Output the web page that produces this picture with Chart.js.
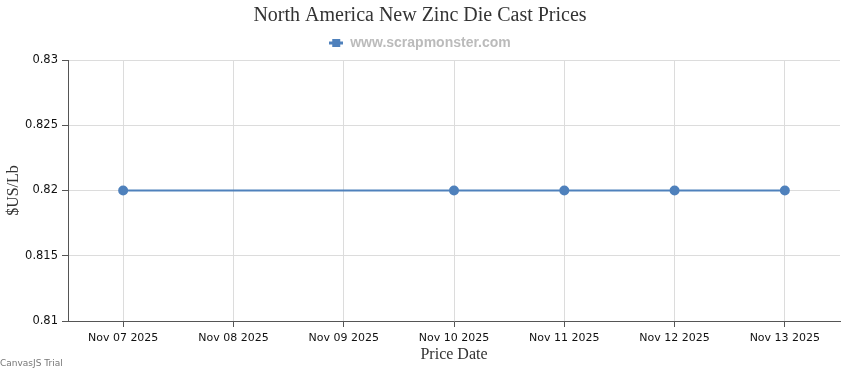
<!DOCTYPE html>
<html>
<head>
<meta charset="utf-8">
<script src="https://cdn.jsdelivr.net/npm/chart.js@4"></script>
<style>
  body { margin: 0; background: #fff; }
  #wrap { position: relative; width: 850px; height: 370px; }
  #trial { position: absolute; left: 0; top: 358px; font: 9px "DejaVu Sans", sans-serif; color: #777; }
</style>
</head>
<body>
<div id="wrap">
  <canvas id="chart" width="850" height="370"></canvas>
  <div id="trial">CanvasJS Trial</div>
</div>
<script>
const dates = ['Nov 07 2025', 'Nov 08 2025', 'Nov 09 2025', 'Nov 10 2025', 'Nov 11 2025', 'Nov 12 2025', 'Nov 13 2025'];
const prices = [0.82, null, null, 0.82, 0.82, 0.82, 0.82];
const yTicks = [0.81, 0.815, 0.82, 0.825, 0.83];

const lineColor = '#4F81BC';

// legend marker: short line with a square on it
function legendMarker() {
    const c = document.createElement('canvas');
    c.width = 14; c.height = 10;
    const g = c.getContext('2d');
    g.strokeStyle = lineColor;
    g.lineWidth = 3;
    g.beginPath(); g.moveTo(0, 5); g.lineTo(14, 5); g.stroke();
    g.fillStyle = lineColor;
    g.fillRect(3, 1, 8, 8);
    return c;
}

const ctx = document.getElementById('chart').getContext('2d');
new Chart(ctx, {
    type: 'line',
    data: {
        labels: dates,
        datasets: [{
            label: 'www.scrapmonster.com',
            data: prices,
            borderColor: lineColor,
            backgroundColor: lineColor,
            borderWidth: 2,
            pointRadius: 4,
            pointBackgroundColor: lineColor,
            spanGaps: true,
            tension: 0
        }]
    },
    options: {
        responsive: false,
        animation: false,
        layout: { padding: { top: 4, right: 10, left: 0, bottom: 0 } },
        plugins: {
            title: {
                display: true,
                text: 'North America New Zinc Die Cast Prices',
                color: '#333',
                font: { family: '"Liberation Serif", serif', size: 20, weight: 'normal' },
                padding: { top: 0, bottom: 2 }
            },
            legend: {
                display: true,
                labels: {
                    usePointStyle: true,
                    color: '#bbb',
                    font: { family: '"Liberation Sans", Arial, sans-serif', size: 14, weight: 'bold' },
                    padding: 6,
                    generateLabels: function(chart) {
                        return [{
                            text: 'www.scrapmonster.com',
                            pointStyle: legendMarker(),
                            fontColor: '#bbb',
                            datasetIndex: 0
                        }];
                    }
                }
            },
            tooltip: { enabled: false }
        },
        scales: {
            x: {
                offset: true,
                grid: { color: '#dcdcdc', offset: false, tickLength: 6, tickColor: '#555' },
                border: { color: '#555', width: 1 },
                ticks: {
                    color: '#111',
                    font: { family: '"DejaVu Sans", sans-serif', size: 11 },
                    maxRotation: 0,
                    autoSkip: false,
                    padding: 5
                },
                title: {
                    display: true,
                    text: 'Price Date',
                    color: '#333',
                    font: { family: '"Liberation Serif", serif', size: 16 },
                    padding: { top: 0, bottom: 6 }
                },
                afterFit: function(s) { s.height = 49; }
            },
            y: {
                min: 0.81,
                max: 0.83,
                afterBuildTicks: function(s) { s.ticks = yTicks.map(v => ({ value: v })); },
                grid: { color: '#dcdcdc', tickLength: 6, tickColor: '#555' },
                border: { color: '#555', width: 1 },
                ticks: {
                    color: '#111',
                    font: { family: '"DejaVu Sans", sans-serif', size: 11.5 },
                    padding: 4,
                    callback: v => String(+v.toFixed(3))
                },
                title: {
                    display: true,
                    text: '$US/Lb',
                    color: '#333',
                    font: { family: '"Liberation Serif", serif', size: 16 },
                    padding: { top: 4, bottom: 0 }
                },
                afterFit: function(s) { s.width = 68; }
            }
        }
    }
});
</script>
</body>
</html>
